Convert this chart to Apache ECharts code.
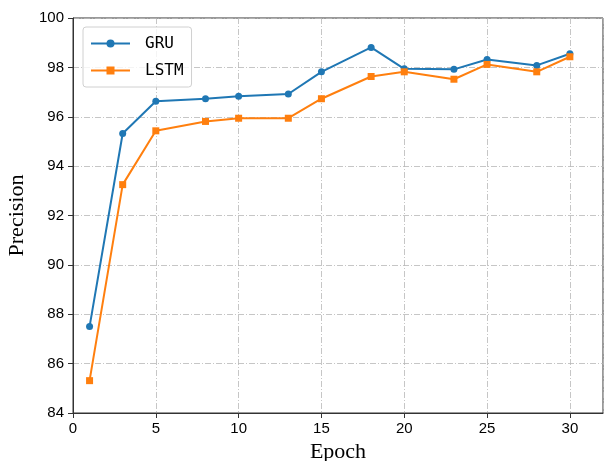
<!DOCTYPE html>
<html>
<head>
<meta charset="utf-8">
<script src="https://cdn.jsdelivr.net/npm/echarts@6/dist/echarts.min.js"></script>
<style>html,body{margin:0;padding:0;background:#fff}#c{width:606px;height:461px}</style>
</head>
<body>
<div id="c"></div>
<script>
const epochs = [1, 3, 5, 8, 10, 13, 15, 18, 20, 23, 25, 28, 30];
const gru = [87.5, 95.32, 96.63, 96.73, 96.83, 96.92, 97.82, 98.81, 97.94, 97.92, 98.32, 98.08, 98.55];
const lstm = [85.31, 93.25, 95.43, 95.81, 95.94, 95.94, 96.73, 97.63, 97.82, 97.52, 98.12, 97.82, 98.43];
const seriesNames = ['GRU', 'LSTM'];
const xTitle = 'Epoch';
const yTitle = 'Precision';

const chart = echarts.init(document.getElementById('c'), null, {renderer: 'canvas'});
const gridLine = {show: true, lineStyle: {color: '#b8b8b8', width: 0.8, type: [6, 2, 1, 2]}};
const labelFont = {color: '#000', fontSize: 15, fontFamily: 'Liberation Sans, Arial, sans-serif'};
chart.setOption({
  animation: false,
  backgroundColor: '#fff',
  grid: {left: 73, right: 3, top: 18, bottom: 48, containLabel: false, outerBoundsMode: 'none',
         show: true, borderColor: '#333', borderWidth: 1, backgroundColor: 'transparent'},
  legend: {
    orient: 'vertical', left: 83, top: 27,
    data: seriesNames,
    itemWidth: 39, itemHeight: 10, itemGap: 10,
    padding: [8, 8, 8, 7],
    borderColor: '#d0d0d0', borderWidth: 1, borderRadius: 3,
    backgroundColor: 'rgba(255,255,255,0.8)',
    textStyle: {color: '#000', fontSize: 16, lineHeight: 17, fontFamily: 'DejaVu Sans Mono, monospace', padding: [0, 0, 0, 10]}
  },
  xAxis: {
    type: 'value', min: 0, max: 32, interval: 5,
    name: xTitle, nameLocation: 'middle', nameGap: 28,
    nameTextStyle: {color: '#000', fontSize: 22, fontFamily: 'Liberation Serif, serif'},
    axisLine: {show: true, lineStyle: {color: '#333', width: 1}},
    axisTick: {show: true, inside: false, length: 5, lineStyle: {color: '#333'}},
    axisLabel: Object.assign({showMaxLabel: false, margin: 8}, labelFont),
    splitLine: gridLine
  },
  yAxis: {
    type: 'value', min: 84, max: 100, interval: 2,
    name: yTitle, nameLocation: 'middle', nameGap: 44,
    nameTextStyle: {color: '#000', fontSize: 22, fontFamily: 'Liberation Serif, serif'},
    axisLine: {show: true, lineStyle: {color: '#333', width: 1}},
    axisTick: {show: true, inside: false, length: 5, lineStyle: {color: '#333'}},
    axisLabel: Object.assign({margin: 9}, labelFont),
    splitLine: gridLine
  },
  series: [
    {
      name: seriesNames[0], type: 'line',
      data: epochs.map((e, i) => [e, gru[i]]),
      symbol: 'circle', symbolSize: 7, showAllSymbol: true,
      itemStyle: {color: '#1f77b4'},
      lineStyle: {color: '#1f77b4', width: 2}
    },
    {
      name: seriesNames[1], type: 'line',
      data: epochs.map((e, i) => [e, lstm[i]]),
      symbol: 'rect', symbolSize: 7, showAllSymbol: true,
      itemStyle: {color: '#ff7f0e'},
      lineStyle: {color: '#ff7f0e', width: 2}
    }
  ]
});
</script>
</body>
</html>
